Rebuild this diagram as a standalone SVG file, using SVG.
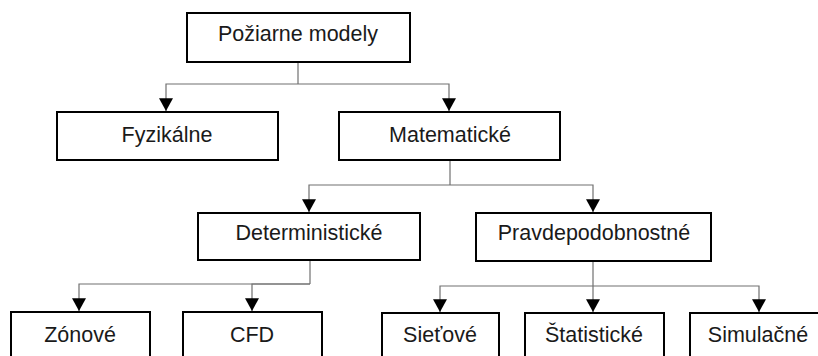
<svg xmlns="http://www.w3.org/2000/svg" width="818" height="356" viewBox="0 0 818 356">
  <style>
    .box { fill: #fff; stroke: #000; stroke-width: 2; }
    .lbl { font-family: "Liberation Sans", Arial, sans-serif; font-size: 21.5px; fill: #1a1a1a; text-anchor: middle; }
    .link { fill: none; stroke: #707070; stroke-width: 1.2; marker-end: url(#tip); }
    .trunk { fill: none; stroke: #707070; stroke-width: 1.2; }
  </style>
  <defs>
    <marker id="tip" markerUnits="userSpaceOnUse" markerWidth="14" markerHeight="14" viewBox="0 0 12 12" refX="6" refY="11" orient="0">
      <path d="M0 0H12L6 11Z" fill="#000"/>
    </marker>
  </defs>
  <rect width="818" height="356" fill="#fff"/>

  <g id="connectors">
    <path class="trunk" d="M298 62V84"/>
    <path class="link" d="M298 84H166V111"/>
    <path class="link" d="M298 84H449V111"/>

    <path class="trunk" d="M450 160V185"/>
    <path class="link" d="M450 185H309V212"/>
    <path class="link" d="M450 185H593V212"/>

    <path class="trunk" d="M310 260V284"/>
    <path class="link" d="M310 284H79V311"/>
    <path class="link" d="M310 284H252V311"/>

    <path class="trunk" d="M593 261V286"/>
    <path class="link" d="M593 286H440V312"/>
    <path class="link" d="M593 286V312"/>
    <path class="link" d="M593 286H759V312"/>
  </g>

  <g id="pozarne-modely">
    <rect class="box" x="187" y="13" width="223" height="49"/>
    <text class="lbl" x="298" y="41">Požiarne modely</text>
  </g>
  <g id="fyzikalne">
    <rect class="box" x="57" y="112" width="221" height="48"/>
    <text class="lbl" x="167" y="142">Fyzikálne</text>
  </g>
  <g id="matematicke">
    <rect class="box" x="339" y="112" width="221" height="48"/>
    <text class="lbl" x="450" y="142">Matematické</text>
  </g>
  <g id="deterministicke">
    <rect class="box" x="198" y="213" width="222" height="47"/>
    <text class="lbl" x="309" y="240">Deterministické</text>
  </g>
  <g id="pravdepodobnostne">
    <rect class="box" x="476" y="213" width="235" height="48"/>
    <text class="lbl" x="594" y="240">Pravdepodobnostné</text>
  </g>
  <g id="zonove">
    <rect class="box" x="11" y="312" width="139" height="60"/>
    <text class="lbl" x="80" y="342">Zónové</text>
  </g>
  <g id="cfd">
    <rect class="box" x="183" y="312" width="139" height="60"/>
    <text class="lbl" x="252" y="342">CFD</text>
  </g>
  <g id="sietove">
    <rect class="box" x="382" y="313" width="117" height="60"/>
    <text class="lbl" x="440" y="342">Sieťové</text>
  </g>
  <g id="statisticke">
    <rect class="box" x="525" y="313" width="139" height="60"/>
    <text class="lbl" x="594" y="342">Štatistické</text>
  </g>
  <g id="simulacne">
    <rect class="box" x="690" y="313" width="140" height="60"/>
    <text class="lbl" x="758" y="342">Simulačné</text>
  </g>
</svg>
